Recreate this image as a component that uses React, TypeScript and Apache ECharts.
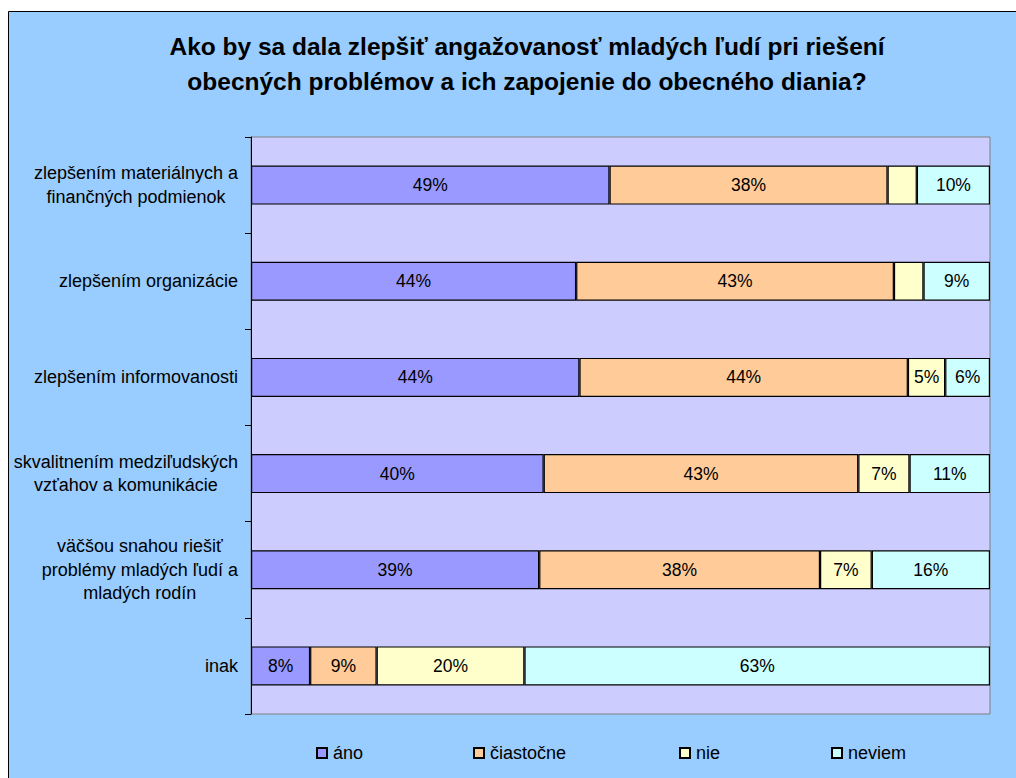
import React, { useEffect, useRef } from "react";
import * as echarts from "echarts";

const categories = [
  "zlepšením materiálnych a\nfinančných podmienok",
  "zlepšením organizácie",
  "zlepšením informovanosti",
  "skvalitnením medziľudských\nvzťahov a komunikácie",
  "väčšou snahou riešiť\nproblémy mladých ľudí a\nmladých rodín",
  "inak",
];
const seriesNames = ["áno", "čiastočne", "nie", "neviem"];
const ano = [49, 44, 44, 40, 39, 8];
const ciastocne = [38, 43, 44, 43, 38, 9];
const nie = [4, 4, 5, 7, 7, 20];
const neviem = [10, 9, 6, 11, 16, 63];
const colors = ["#9999FF", "#FFCC99", "#FFFFCC", "#CCFFFF"];
const titleText =
  "Ako by sa dala zlepšiť angažovanosť mladých ľudí pri riešení\nobecných problémov a ich zapojenie do obecného diania?";

const FONT = '"Liberation Sans", Arial, sans-serif';

export default function App() {
  const ref = useRef<HTMLDivElement>(null);
  useEffect(() => {
    if (!ref.current) return;
    const chart = echarts.init(ref.current, undefined, { renderer: "svg" });
    const all = [ano, ciastocne, nie, neviem];
    const sums = categories.map((_, i) => all.reduce((s, arr) => s + arr[i], 0));
    const series = all.map((arr, k) => ({
      name: seriesNames[k],
      type: "bar",
      stack: "total",
      barWidth: 39,
      itemStyle: { color: colors[k], borderColor: "#000", borderWidth: 1.2 },
      label: {
        show: true,
        position: "inside",
        color: "#000",
        fontSize: 17.5,
        fontFamily: FONT,
        formatter: (p: any) => (p.data.raw >= 5 ? p.data.raw + "%" : ""),
      },
      data: arr.map((v, i) => ({ value: (v / sums[i]) * 100, raw: v })),
    }));
    const legendLefts = [303, 460, 666, 818];
    chart.setOption({
      animation: false,
      backgroundColor: "#99CCFF",
      grid: {
        left: 243,
        top: 126,
        width: 739,
        height: 577,
        show: true,
        backgroundColor: "#CCCCFF",
        borderColor: "#808080",
        borderWidth: 1,
      },
      xAxis: { type: "value", min: 0, max: 100, show: false },
      yAxis: {
        type: "category",
        inverse: true,
        data: categories,
        axisLine: { show: true, lineStyle: { color: "#000", width: 1 } },
        axisTick: { show: true, length: 6, lineStyle: { color: "#000" } },
        axisLabel: {
          margin: 13,
          color: "#000",
          fontSize: 18,
          fontFamily: FONT,
          formatter: (v: string) =>
            v
              .split("\n")
              .map((l) => `{c|${l}}`)
              .join("\n"),
          rich: {
            c: { align: "center", fontSize: 18, fontFamily: FONT, color: "#000", lineHeight: 23.5 },
          },
        },
      },
      legend: seriesNames.map((n, k) => ({
        data: [n],
        left: legendLefts[k],
        top: 728,
        itemWidth: 10,
        itemHeight: 10,
        icon: "rect",
        textStyle: { fontSize: 18, fontFamily: FONT, color: "#000", padding: [0, 0, 0, 1] },
        selectedMode: false,
      })),
      graphic: [
        {
          type: "text",
          x: 519,
          y: 18,
          style: {
            text: titleText,
            font: `bold 24.5px ${FONT}`,
            fill: "#000",
            align: "center",
            verticalAlign: "top",
            lineHeight: 35,
          },
        },
        { type: "line", shape: { x1: 0.5, y1: 0.5, x2: 1008, y2: 0.5 }, style: { stroke: "#000", lineWidth: 1 } },
        { type: "line", shape: { x1: 0.5, y1: 0.5, x2: 0.5, y2: 767 }, style: { stroke: "#000", lineWidth: 1 } },
      ],
      series,
    });
    return () => chart.dispose();
  }, []);
  return (
    <div
      ref={ref}
      style={{ position: "fixed", left: 8, top: 11, width: 1008, height: 767 }}
    />
  );
}
